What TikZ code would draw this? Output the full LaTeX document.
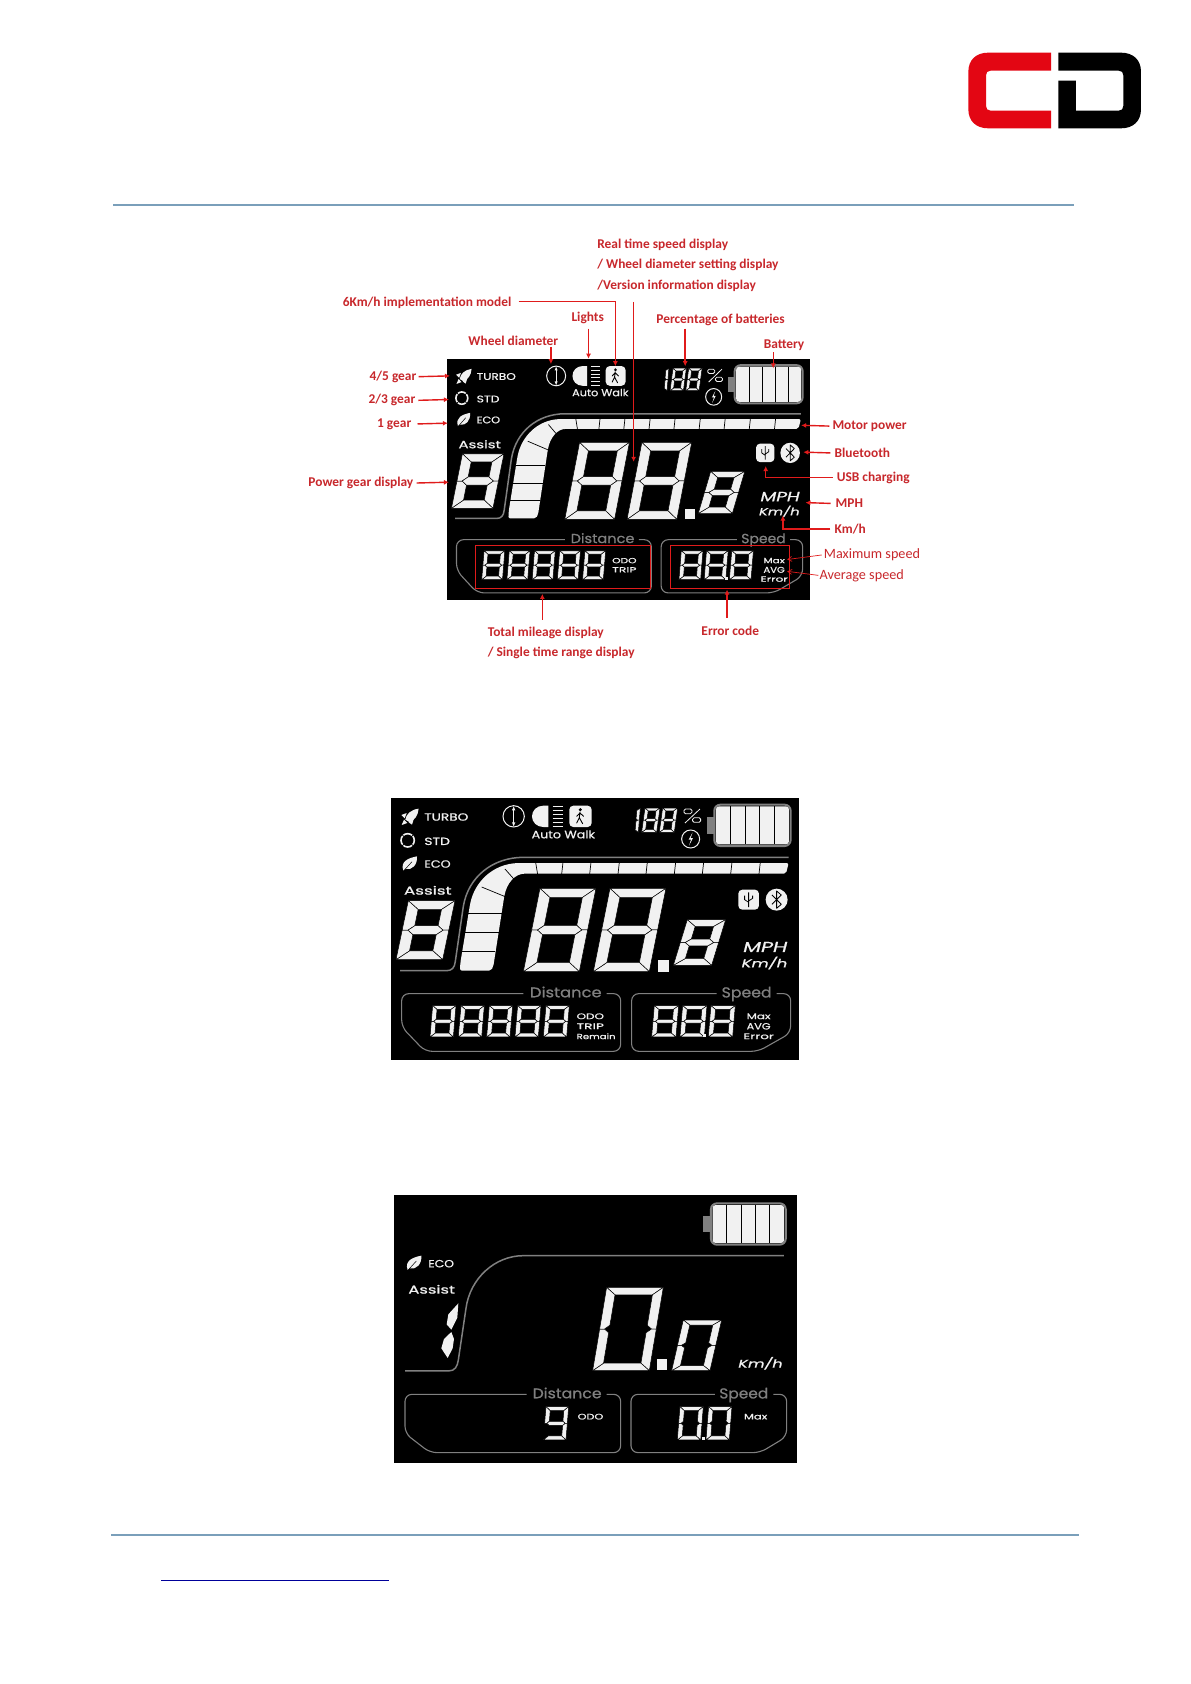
\documentclass[tikz,border=0pt]{standalone}
\usepackage{fontspec}
\usepackage{graphicx}
\usetikzlibrary{arrows.meta}
\setmainfont{Carlito}
\newfontfamily\lcdfont[FakeBold=0.7]{Poppins}
\definecolor{seg}{HTML}{F1F1F1}
\definecolor{lcdgrey}{HTML}{808080}
\definecolor{lblred}{HTML}{C8282C}
\definecolor{arrred}{HTML}{E01B1B}
\definecolor{rulec}{HTML}{7A9FBA}
\definecolor{logored}{HTML}{E30613}
\newcounter{ltcnt}
\tikzset{
  segp/.style={fill=seg,draw=black,line width=.5pt},
  frameline/.style={draw=lcdgrey,line width=1.1pt,rounded corners=7pt},
  iconl/.style={draw=seg,line width=1pt},
  blk/.style={draw=black,line width=.8pt},
  redlbl/.style={text=lblred,font=\fontsize{13.4}{15}\selectfont\bfseries,anchor=west,inner sep=0pt,yshift=-.8pt},
  redthin/.style={text=lblred,font=\fontsize{14.2}{16}\selectfont,anchor=west,inner sep=0pt,yshift=-.8pt},
  redarr/.style={draw=arrred,line width=1.4pt,-{Latex[length=5pt,width=5pt]}},
  redline/.style={draw=arrred,line width=1.4pt},
  redarrthin/.style={draw=arrred,line width=.7pt,-{Straight Barb[length=4pt,width=5pt]}},
  redbox/.style={draw=arrred,line width=.8pt},
}
% seven segment pieces, unit square, v up
\def\sega{\path[segp] (0,1)--(1,1)--(1-\tx,1-\ty)--(\tx,1-\ty)--cycle;}
\def\segb{\path[segp] (1,1)--(1,.5)--(1-\tx/2,.5)--(1-\tx,.5+\ty/2)--(1-\tx,1-\ty)--cycle;}
\def\segc{\path[segp] (1,.5)--(1,0)--(1-\tx,\ty)--(1-\tx,.5-\ty/2)--(1-\tx/2,.5)--cycle;}
\def\segd{\path[segp] (0,0)--(1,0)--(1-\tx,\ty)--(\tx,\ty)--cycle;}
\def\sege{\path[segp] (0,.5)--(\tx/2,.5)--(\tx,.5-\ty/2)--(\tx,\ty)--(0,0)--cycle;}
\def\segf{\path[segp] (0,1)--(\tx,1-\ty)--(\tx,.5+\ty/2)--(\tx/2,.5)--(0,.5)--cycle;}
\def\segg{\path[segp] (\tx/2,.5)--(\tx,.5+\ty/2)--(1-\tx,.5+\ty/2)--(1-\tx/2,.5)--(1-\tx,.5-\ty/2)--(\tx,.5-\ty/2)--cycle;}
\def\eight{\sega\segb\segc\segd\sege\segf\segg}
\def\zero{\sega\segb\segc\segd\sege\segf}
\def\nine{\sega\segb\segc\segd\segf\segg}
\def\one{\segb\segc}
% \dig{x0}{y0 bottom}{w}{slant}{h}{tx}{ty}{segments}
\newcommand\dig[8]{\begin{scope}[shift={(#1,#2)},x={(#3pt,0pt)},y={(#4pt,#5pt)}]
  \def\tx{#6}\def\ty{#7}#8\end{scope}}
% \lcdt[colour]{x1}{x2}{y centre}{height}{text}
\newcommand\lcdt[6][seg]{\stepcounter{ltcnt}%
  \pgfmathsetlengthmacro\ltw{(#3)-(#2)}\pgfmathsetmacro\ltc{((#2)+(#3))/2}%
  \node[transform shape,inner sep=0pt,text=#1] (lt\theltcnt) at (\ltc,#4) {\resizebox{\ltw}{#5pt}{\lcdfont #6}};}
\newcommand\batteryicon{%
  \fill[lcdgrey] (980,82) rectangle (1001,132);
  \draw[lcdgrey,line width=2pt,rounded corners=6pt] (1003,45) rectangle (1232,169);
  \fill[seg,rounded corners=3pt] (1008,50) rectangle (1227,164);
  \foreach \q in {1051,1095,1139,1182}{\draw[blk,line width=.6pt] (\q,50)--(\q,164);}
}
\newcommand\leaficon{%
  \fill[seg] (70,243) .. controls (60,215) and (85,205) .. (111,200) .. controls (113,225) and (96,243) .. (76,238) -- cycle;
  \draw[black,line width=.5pt] (68,247)--(96,216);
}
\newcommand\lcdmain[1]{%
  % rocket
  \fill[seg] (116,57) .. controls (92,60) and (78,74) .. (76,90) -- (88,97) .. controls (104,92) and (114,78) .. (116,57) -- cycle;
  \fill[seg] (80,70)--(64,76)--(74,86)--cycle;
  \fill[seg] (102,86)--(96,105)--(86,98)--cycle;
  \fill[seg] (72,90)--(65,106)--(82,100)--cycle;
  % std ring
  \draw[iconl,line width=1.6pt] (83,152) circle[radius=20];
  \foreach \q in {45,135,225,315}{\draw[black,line width=.7pt] (83,152)+(\q:16)--+(\q:24);}
  \leaficon
  \lcdt{133}{265}{82}{22}{TURBO}
  \lcdt{133}{210}{155}{22}{STD}
  \lcdt{133}{212}{223}{22}{ECO}
  % wheel
  \draw[iconl] (401,80) circle[radius=32];
  \draw[seg,line width=.6pt] (401,56)--(401,104);
  \fill[seg] (401,50)--(396,62)--(406,62)--cycle (401,110)--(396,98)--(406,98)--cycle;
  % lights
  \fill[seg] (505,48)--(505,112)--(490,112) .. controls (470,112) and (456,97) .. (456,80) .. controls (456,63) and (470,48) .. (490,48) -- cycle;
  \foreach \q in {50,62,74,86,98,110}{\draw[seg,line width=.8pt] (518,\q)--(550,\q);}
  % walker
  \fill[seg,rounded corners=4pt] (568,48) rectangle (635,112);
  \fill[black] (601,60) circle[radius=5];
  \draw[black,line width=.9pt,line cap=round] (600,67)--(598,84)--(590,100) (598,84)--(608,102) (600,70)--(590,80) (600,70)--(611,80);
  \lcdt{455}{645}{134}{24}{Auto Walk}
  % percentage
  \dig{755}{128}{20}{6}{73}{.5}{.1}{\one}
  \dig{785}{128}{45}{10}{73}{.24}{.12}{\eight}
  \dig{838}{128}{45}{10}{73}{.24}{.12}{\eight}
  \draw[iconl,rounded corners=1.5pt,line width=.8pt] (912,58) rectangle (936,72) (938,84) rectangle (962,98);
  \draw[iconl,line width=.8pt] (915,100)--(960,58);
  \draw[iconl] (932,148) circle[radius=27];
  \fill[seg] (938,128)--(926,150)--(933,150)--(927,168)--(939,145)--(932,145)--cycle;
  \batteryicon
  % frame arc
  \draw[lcdgrey,line width=1.5pt] (60,543)--(200,543) .. controls (215,543) and (224,535) .. (226,515) -- (250,350) .. controls (265,260) and (340,203) .. (430,203) -- (1226,203);
  % power bar
  \fill[seg,rounded corners=2pt] (240,543) -- (241,520) -- (270,345) .. controls (285,275) and (340,222) .. (420,220) -- (1226,220) -- (1218,252) -- (440,252) .. controls (405,252) and (380,280) .. (372,325) -- (340,530) -- (333,543) -- cycle;
  \foreach \a/\b/\c/\d in {246/485/345/485,255/428/356/428,264/370/365/370,305/292/378/322,375/238/405/272,467/218/473/254,549/218/545/254,633/218/629/254,718/218/714/254,802/218/798/254,887/218/883/254,971/218/967/254,1056/218/1052/254,1141/218/1137/254}
    {\draw[blk,line width=.7pt] (\a,\b)--(\c,\d);}
  \lcdt{72}{215}{302}{26}{Assist}
  \dig{48}{510}{140}{37}{177}{.25}{.15}{\eight}
  \dig{430}{546}{168}{50}{250}{.21}{.11}{\eight}
  \dig{640}{546}{168}{50}{250}{.21}{.11}{\eight}
  \fill[seg] (835,512) rectangle (868,546);
  \dig{880}{527}{115}{42}{137}{.26}{.15}{\eight}
  \lcdt{1090}{1222}{472}{30}{\itshape MPH}
  \lcdt{1085}{1222}{520}{32}{\itshape Km/h}
  % usb, bt
  \fill[seg,rounded corners=4pt] (1075,300) rectangle (1137,360);
  \draw[black,line width=.8pt] (1106,308)--(1106,352) (1094,318)--(1094,330)--(1106,338) (1118,318)--(1118,326)--(1106,334);
  \fill[seg] (1190,330) circle[radius=33];
  \draw[black,line width=.8pt,line join=round] (1176,316)--(1204,344)--(1190,356)--(1190,304)--(1204,316)--(1176,344);
  % frames
  \draw[frameline] (430,612)--(65,612)--(65,712)--(135,785)--(722,785)--(722,612)--(680,612);
  \draw[frameline] (1010,612)--(755,612)--(755,785)--(1135,785)--(1232,730)--(1232,612)--(1190,612);
  \lcdt[lcdgrey]{450}{665}{607}{32}{Distance}
  \lcdt[lcdgrey]{1025}{1175}{613}{32}{Speed}
  \foreach \q in {150,235,320,405,490}{\dig{\q}{742}{70}{8}{94}{.2}{.12}{\eight}}
  \foreach \q in {815,900,985}{\dig{\q}{742}{73}{8}{94}{.2}{.12}{\eight}}
  \fill[seg] (969,733) rectangle (979,742);
  \lcdt{590}{672}{680}{17}{ODO}
  \lcdt{590}{672}{710}{17}{TRIP}
  #1
  \lcdt{1100}{1172}{680}{17}{Max}
  \lcdt{1100}{1172}{710}{19}{AVG}
  \lcdt{1090}{1182}{740}{17}{Error}
}
\begin{document}
\begin{tikzpicture}[x=1pt,y=-1pt]
\useasboundingbox (0,0) rectangle (1191,1684);
\fill[white] (0,0) rectangle (1191,1684);
% logo
\begin{scope}[shift={(950,30)},scale=.3333]
  \fill[logored] (303,68)--(115,68) .. controls (78,68) and (55,90) .. (55,125) -- (55,238) .. controls (55,273) and (78,295) .. (115,295) -- (303,295) -- (303,242) -- (122,242) .. controls (113,242) and (108,237) .. (108,228) -- (108,136) .. controls (108,127) and (113,122) .. (122,122) -- (303,122) -- cycle;
  \fill[black] (325,68)--(513,68) .. controls (550,68) and (573,90) .. (573,125) -- (573,238) .. controls (573,273) and (550,295) .. (513,295) -- (325,295) -- (325,152) -- (378,152) -- (378,242) -- (506,242) .. controls (515,242) and (520,237) .. (520,228) -- (520,136) .. controls (520,127) and (515,122) .. (506,122) -- (325,122) -- cycle;
\end{scope}
% rules
\draw[rulec,line width=1.6pt] (113,205)--(1074,205);
\draw[rulec,line width=2pt] (111,1535)--(1079,1535);
\draw[blue!60!black,line width=1pt] (161,1580)--(389,1580);
% panel A
\fill[black] (447,359) rectangle (810,600);
\begin{scope}[shift={(447,359)},xscale=.2966,yscale=.3078,shift={(-33,-25)}]
  \lcdmain{}
\end{scope}
% panel B
\fill[black] (391,798) rectangle (799,1060);
\begin{scope}[shift={(391,798)},scale=.3333,shift={(-33,-25)}]
  \lcdmain{\lcdt{590}{707}{740}{17}{Remain}}
\end{scope}
% panel C
\fill[black] (394,1195) rectangle (797,1463);
\begin{scope}[shift={(380,1185)},scale=.3333]
  \begin{scope}[shift={(10,10)},xscale=.98]\batteryicon\end{scope}
  \begin{scope}[shift={(13,12)}]\leaficon\end{scope}
  \draw[lcdgrey,line width=1.5pt] (75,558)--(205,558) .. controls (225,558) and (232,545) .. (235,525) -- (258,370) .. controls (270,280) and (345,212) .. (430,212) -- (1212,212);
  \lcdt{145}{222}{236}{22}{ECO}
  \lcdt{85}{225}{313}{26}{Assist}
  \fill[seg] (235,355)--(232,398)--(214,434)--(200,418)--(205,388)--cycle;
  \fill[seg] (214,441)--(222,462)--(218,490)--(203,519)--(184,490)--(192,462)--cycle;
  \dig{638}{557}{170}{42}{250}{.17}{.09}{\zero}
  \fill[seg] (830,522) rectangle (862,556);
  \dig{875}{557}{115}{35}{152}{.2}{.1}{\zero}
  \lcdt{1075}{1208}{535}{32}{\itshape Km/h}
  \draw[frameline] (440,628)--(75,628)--(75,745)--(150,803)--(722,803)--(722,628)--(680,628);
  \draw[frameline] (1005,628)--(753,628)--(753,803)--(1140,803)--(1220,755)--(1220,628)--(1180,628);
  \lcdt[lcdgrey]{458}{665}{624}{32}{Distance}
  \lcdt[lcdgrey]{1018}{1165}{630}{32}{Speed}
  \dig{490}{765}{68}{8}{100}{.2}{.12}{\nine}
  \dig{892}{765}{70}{8}{100}{.2}{.12}{\zero}
  \dig{978}{765}{70}{8}{100}{.2}{.12}{\zero}
  \fill[seg] (966,756) rectangle (976,765);
  \lcdt{593}{670}{695}{17}{ODO}
  \lcdt{1092}{1162}{695}{17}{Max}
\end{scope}
% annotations of panel A (coordinates of the 1109-wide view)
\begin{scope}[x=1.07394pt,y=-1.07394pt]
  \draw[redbox] (443,508) rectangle (606,548);
  \draw[redbox] (624,508) rectangle (735,548);
  \node[redlbl] (rt1) at (556,227) {Real time speed display};
  \node[redlbl] (rt2) at (556,246) {/ Wheel diameter setting display};
  \node[redlbl] (rt3) at (556,265) {/Version information display};
  \node[redlbl] (six) at (319,281) {6Km/h implementation model};
  \node[redlbl] (lights) at (532,295) {Lights};
  \node[redlbl] (wheel) at (436,317) {Wheel diameter};
  \node[redlbl] (pct) at (611,297) {Percentage of batteries};
  \node[redlbl] (batt) at (711,321) {Battery};
  \node[redlbl] (g45) at (344,350) {4/5 gear};
  \node[redlbl] (g23) at (343,372) {2/3 gear};
  \node[redlbl] (g1) at (351,394) {1 gear};
  \node[redlbl] (pgd) at (287,449) {Power gear display};
  \node[redlbl] (mot) at (775,396) {Motor power};
  \node[redlbl] (bt) at (777,421) {Bluetooth};
  \node[redlbl] (usb) at (779,444) {USB charging};
  \node[redlbl] (mph) at (778,468) {MPH};
  \node[redlbl] (kmh) at (777,492) {Km/h};
  \node[redthin] (maxs) at (767,516) {Maximum speed};
  \node[redthin] (avgs) at (763,535) {Average speed};
  \node[redlbl] (tm1) at (454,589) {Total mileage display};
  \node[redlbl] (tm2) at (454,607) {/ Single time range display};
  \node[redlbl] (err) at (653,587) {Error code};
  \coordinate (rtS) at (590,281); \coordinate (rtE) at (590,430);
  \coordinate (sixB) at (483,281); \coordinate (sixC) at (573,281); \coordinate (sixE) at (573,341);
  \coordinate (lightsS) at (548,306); \coordinate (lightsE) at (548,334);
  \coordinate (wheelS) at (513,323); \coordinate (wheelE) at (513,339);
  \coordinate (pctS) at (638,306); \coordinate (pctE) at (638,341);
  \coordinate (battS) at (720,328); \coordinate (battE) at (720,343);
  \coordinate (g45E) at (419,350); \coordinate (g23E) at (418,372); \coordinate (g1E) at (417,394);
  \coordinate (pgdE) at (418,449);
  \coordinate (motE) at (746,396); \coordinate (btE) at (748,421);
  \coordinate (usbE) at (713,434); \coordinate (mphE) at (750,468);
  \coordinate (kmhE) at (729,480);
  \coordinate (maxE) at (733,521); \coordinate (avgE) at (733,532);
  \coordinate (tmS) at (505,577); \coordinate (tmE) at (505,553);
  \coordinate (errS) at (677,575); \coordinate (errE) at (677,549);
  \draw[redarr] (rtS)--(rtE);
  \draw[redarr] (sixB)--(sixC)--(sixE);
  \draw[redarr] (lightsS)--(lightsE);
  \draw[redarr] (wheelS)--(wheelE);
  \draw[redarr] (pctS)--(pctE);
  \draw[redarr] (battS)--(battE);
  \draw[redarr] ([xshift=2pt]g45.east)--(g45E);
  \draw[redarr] ([xshift=3pt]g23.east)--(g23E);
  \draw[redarr] ([xshift=6pt]g1.east)--(g1E);
  \draw[redarr] ([xshift=3pt]pgd.east)--(pgdE);
  \draw[redarr] ([xshift=-3pt]mot.west)--(motE);
  \draw[redarr] ([xshift=-4pt]bt.west)--(btE);
  \draw[redarr] ([xshift=-4pt]usb.west) -| (usbE);
  \draw[redarr] ([xshift=-5pt]mph.west)--(mphE);
  \draw[redarr] ([xshift=-4pt]kmh.west) -| (kmhE);
  \draw[redarrthin] ([xshift=-2pt]maxs.west)--(maxE);
  \draw[redarrthin] ([xshift=-1pt]avgs.west)--(avgE);
  \draw[redarr] (tmS)--(tmE);
  \draw[redarr] (errS)--(errE);
\end{scope}
\end{tikzpicture}
\end{document}
